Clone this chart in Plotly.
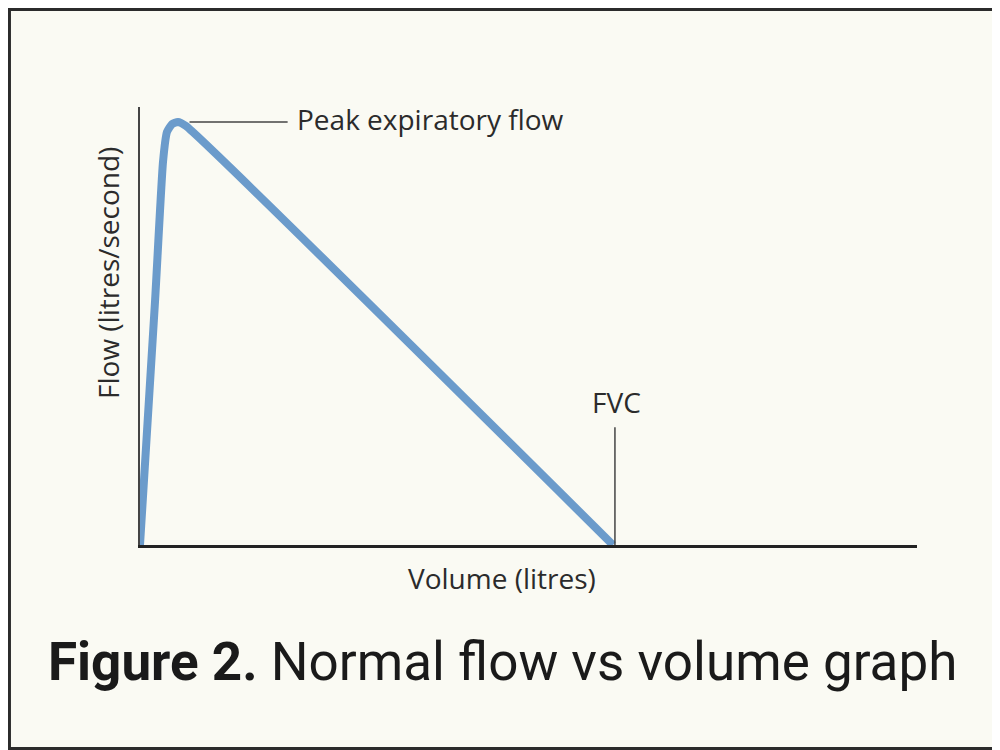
import plotly.graph_objects as go

# flow-volume curve (expiratory part)
volume = [0.0, 0.155, 0.237, 0.278, 0.33, 0.39, 0.47, 4.87]
flow = [0.0, 5.57, 8.75, 9.43, 9.61, 9.66, 9.57, 0.0]

peak_volume = 0.39
peak_flow = 9.66
fvc = 4.87

label_peak = "Peak expiratory flow"
label_fvc = "FVC"
x_title = "Volume (litres)"
y_title = "Flow (litres/second)"
caption = "<b>Figure 2.</b> Normal flow vs volume graph"

bg = "#fafaf3"
ink = "#2b2b2b"
font = "Open Sans, Noto Sans, sans-serif"

fig = go.Figure()

fig.add_trace(go.Scatter(
    x=volume, y=flow, mode="lines",
    line=dict(color="#6b9bcb", width=8, shape="spline", smoothing=0.5),
    hoverinfo="skip", showlegend=False,
))

# leader line for the peak and the FVC marker
fig.add_shape(type="line", x0=peak_volume + 0.12, x1=1.52, y0=peak_flow, y1=peak_flow,
              line=dict(color="#444", width=1.5))
fig.add_shape(type="line", x0=fvc + 0.02, x1=fvc + 0.02, y0=0, y1=2.69,
              line=dict(color="#444", width=1.5))

fig.add_annotation(x=1.6, y=9.73, text=label_peak, showarrow=False,
                   xanchor="left", yanchor="middle",
                   font=dict(family=font, size=28, color=ink))
fig.add_annotation(x=fvc + 0.04, y=2.69, text=label_fvc, showarrow=False,
                   xanchor="center", yanchor="bottom", yshift=4,
                   font=dict(family=font, size=28, color=ink))

# axis titles placed by hand to match the original
fig.add_annotation(x=3.73, y=-0.0753, yref="paper", text=x_title, showarrow=False,
                   xanchor="center", yanchor="middle",
                   font=dict(family=font, size=28, color=ink))
fig.add_annotation(x=-0.0412, xref="paper", y=6.21, text=y_title, showarrow=False,
                   textangle=-90, xanchor="center", yanchor="middle",
                   font=dict(family=font, size=28, color=ink))

# caption
fig.add_annotation(x=0.466, y=-0.267, xref="paper", yref="paper",
                   text=caption, showarrow=False, xanchor="center", yanchor="middle",
                   font=dict(family="Roboto, Open Sans, sans-serif", size=53, color="#1a1a1a"))

# border around the whole picture
fig.add_shape(type="rect", xref="paper", yref="paper",
              x0=-0.168, x1=1.105, y0=-0.4646, y1=1.2226,
              line=dict(color=ink, width=3))

fig.update_layout(
    width=992, height=742,
    margin=dict(l=132, r=83, t=99, b=205),
    paper_bgcolor=bg, plot_bgcolor=bg,
    font=dict(family=font, size=24, color=ink),
)
fig.update_xaxes(range=[0, 8], showline=True, linecolor="#222", linewidth=2.5,
                 showticklabels=False, ticks="", showgrid=False, zeroline=False)
fig.update_yaxes(range=[0, 10], showline=True, linecolor="#444", linewidth=2,
                 showticklabels=False, ticks="", showgrid=False, zeroline=False)

fig.write_html("out.html")
